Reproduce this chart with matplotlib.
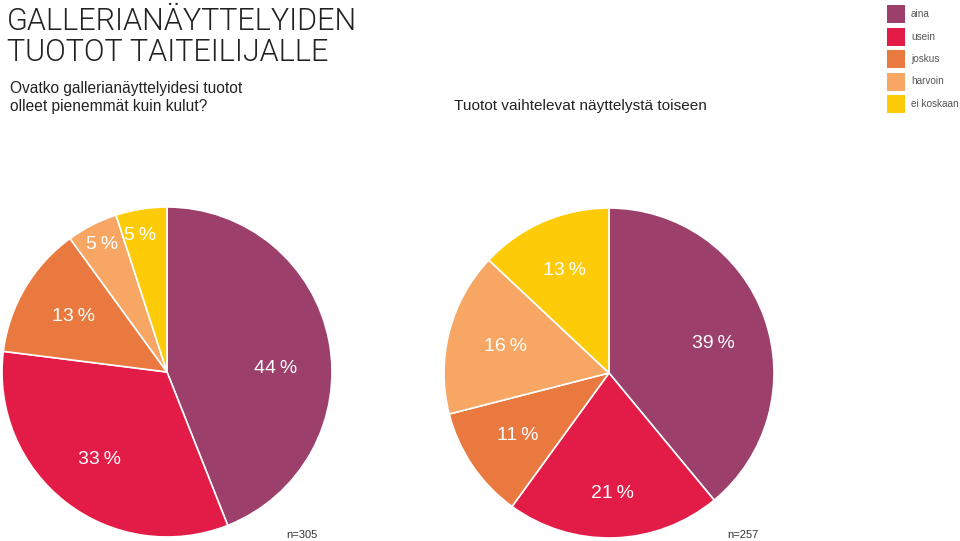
import matplotlib
matplotlib.use("Agg")
import matplotlib.pyplot as plt
from matplotlib.patches import Rectangle
import numpy as np

categories = ["aina", "usein", "joskus", "harvoin", "ei koskaan"]
colors = ["#9C3F6A", "#E31C47", "#E9793F", "#F7A763", "#FECB09"]
values_left = [44, 33, 13, 5, 5]
values_right = [39, 21, 11, 16, 13]
n_left = "n=305"
n_right = "n=257"
title_lines = ["GALLERIANÄYTTELYIDEN", "TUOTOT TAITEILIJALLE"]
subtitle_left = ["Ovatko gallerianäyttelyidesi tuotot", "olleet pienemmät kuin kulut?"]
subtitle_right = "Tuotot vaihtelevat näyttelystä toiseen"

W, H = 960, 541
fig = plt.figure(figsize=(W / 100, H / 100), dpi=100)
fig.patch.set_facecolor("white")

FONT = ["Liberation Sans", "DejaVu Sans"]


def fx(px):
    return px / W


def fy(py):
    return 1 - py / H


def pie_axes(cx, cy, r):
    return fig.add_axes([(cx - r) / W, (H - cy - r) / H, 2 * r / W, 2 * r / H])


def draw_pie(ax, vals, dists, angle_shift):
    ax.pie(vals, colors=colors, startangle=90, counterclock=False,
           radius=1.0, wedgeprops=dict(edgecolor="white", linewidth=1.2))
    total = sum(vals)
    start = 90.0
    for i, v in enumerate(vals):
        sweep = 360.0 * v / total
        mid = start - sweep / 2 + angle_shift[i]
        start -= sweep
        d = dists[i]
        x = d * np.cos(np.radians(mid))
        y = d * np.sin(np.radians(mid))
        ax.text(x, y, f"{v}\u2009%", color="white", fontsize=14, ha="center",
                va="center", family=FONT)
    ax.set_xlim(-1, 1)
    ax.set_ylim(-1, 1)
    ax.set_aspect("equal")
    ax.axis("off")


axL = pie_axes(167, 372, 165)
draw_pie(axL, values_left, [0.66, 0.67, 0.66, 0.87, 0.84], [-9, 0, 0, 0, 2])
axR = pie_axes(609, 373, 165)
draw_pie(axR, values_right, [0.66, 0.73, 0.67, 0.65, 0.68], [-4, 0, 0, 0, 0])

# Titles
for i, line in enumerate(title_lines):
    fig.text(fx(7), fy(30 + 31 * i), line, fontsize=22, fontweight=300,
             color="#222222", family=["Roboto", "DejaVu Sans"],
             va="baseline", ha="left")
for i, line in enumerate(subtitle_left):
    fig.text(fx(10), fy(93 + 18 * i), line, fontsize=11.2, color="#222222",
             family=FONT, va="baseline", ha="left")
fig.text(fx(580), fy(106), subtitle_right, fontsize=11.1, color="#222222",
         family=FONT, va="center", ha="center")

fig.text(fx(302), fy(535), n_left, fontsize=8, color="#333333", family=FONT,
         ha="center", va="center")
fig.text(fx(743), fy(535), n_right, fontsize=8, color="#333333", family=FONT,
         ha="center", va="center")

# Legend (manual squares + labels)
for i, (cat, col) in enumerate(zip(categories, colors)):
    top = 5 + 22.5 * i
    fig.add_artist(Rectangle((fx(887), fy(top + 18)), 18 / W, 18 / H,
                             transform=fig.transFigure, facecolor=col,
                             edgecolor="none"))
    fig.text(fx(911), fy(top + 9), cat, fontsize=7.2, color="#555555",
             family=FONT, ha="left", va="center")

fig.savefig("out.png", dpi=100, facecolor="white")
